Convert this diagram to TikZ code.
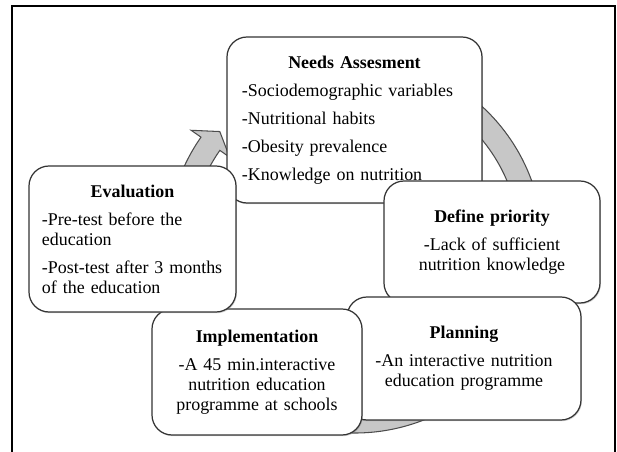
\documentclass[tikz,border=0pt]{standalone}
\usepackage{fontspec}
\setmainfont{Liberation Serif}
\usetikzlibrary{shadows}

\begin{document}
\begin{tikzpicture}[
    stage/.style={draw=black!80, line width=0.7pt, fill=white, rounded corners=0.4cm,
        inner ysep=0pt, font=\fontsize{10.2}{11.4}\selectfont,
        execute at begin node={\setlength{\parskip}{4.5pt}},
        drop shadow={shadow xshift=0.5pt, shadow yshift=-0.7pt, opacity=0.35}},
    cyclearrow/.style={fill=black!22, draw=black!70, line width=0.6pt}]
    \useasboundingbox (0,0) rectangle (12.34,9.02);
    \draw[line width=0.8pt] (0.24,-0.1) |- (12.3,8.9) -- (12.3,-0.1);

    % block arrows on the cycle, under the boxes
    \coordinate (c) at (7.1,4.12);
    \begin{scope}[shift={(c)}]
    \foreach \from/\base/\to in {175/145/140, 70/15/10, -40/-115/-120}
        \filldraw[cyclearrow] (\from:3.76) arc[start angle=\from, end angle=\base, radius=3.76]
            -- (\base:4) -- (\to:3.53) -- (\base:3.06) -- (\base:3.3)
            arc[start angle=\base, end angle=\from, radius=3.3] -- cycle;
    \end{scope}

    \node[stage, minimum width=5.1cm, minimum height=3.32cm, text width=4.5cm, align=left]
        (needs) at (7.09,6.62) {{\centering\textbf{Needs Assesment}\par}
        -Sociodemographic variables\par
        -Nutritional habits\par
        -Obesity prevalence\par
        -Knowledge on nutrition};
    \node[stage, minimum width=4.32cm, minimum height=2.44cm, text width=4cm, align=center]
        (define) at (9.84,4.18) {\textbf{Define priority}\par
        -Lack of sufficient\\nutrition knowledge};
    \node[stage, minimum width=4.68cm, minimum height=2.46cm, text width=4.3cm, align=center]
        (plan) at (9.28,1.85) {\textbf{Planning}\par
        -An interactive nutrition\\education programme};
    \node[stage, minimum width=4.2cm, minimum height=2.52cm, text width=3.9cm, align=center]
        (impl) at (5.14,1.58) {\textbf{Implementation}\par
        -A 45 min.interactive\\nutrition education\\programme at schools};
    \node[stage, minimum width=4.14cm, minimum height=2.92cm, text width=3.62cm, align=left]
        (eval) at (2.65,4.24) {{\centering\textbf{Evaluation}\par}
        -Pre-test before the\\education\par
        -Post-test after 3 months\\of the education};
\end{tikzpicture}
\end{document}
